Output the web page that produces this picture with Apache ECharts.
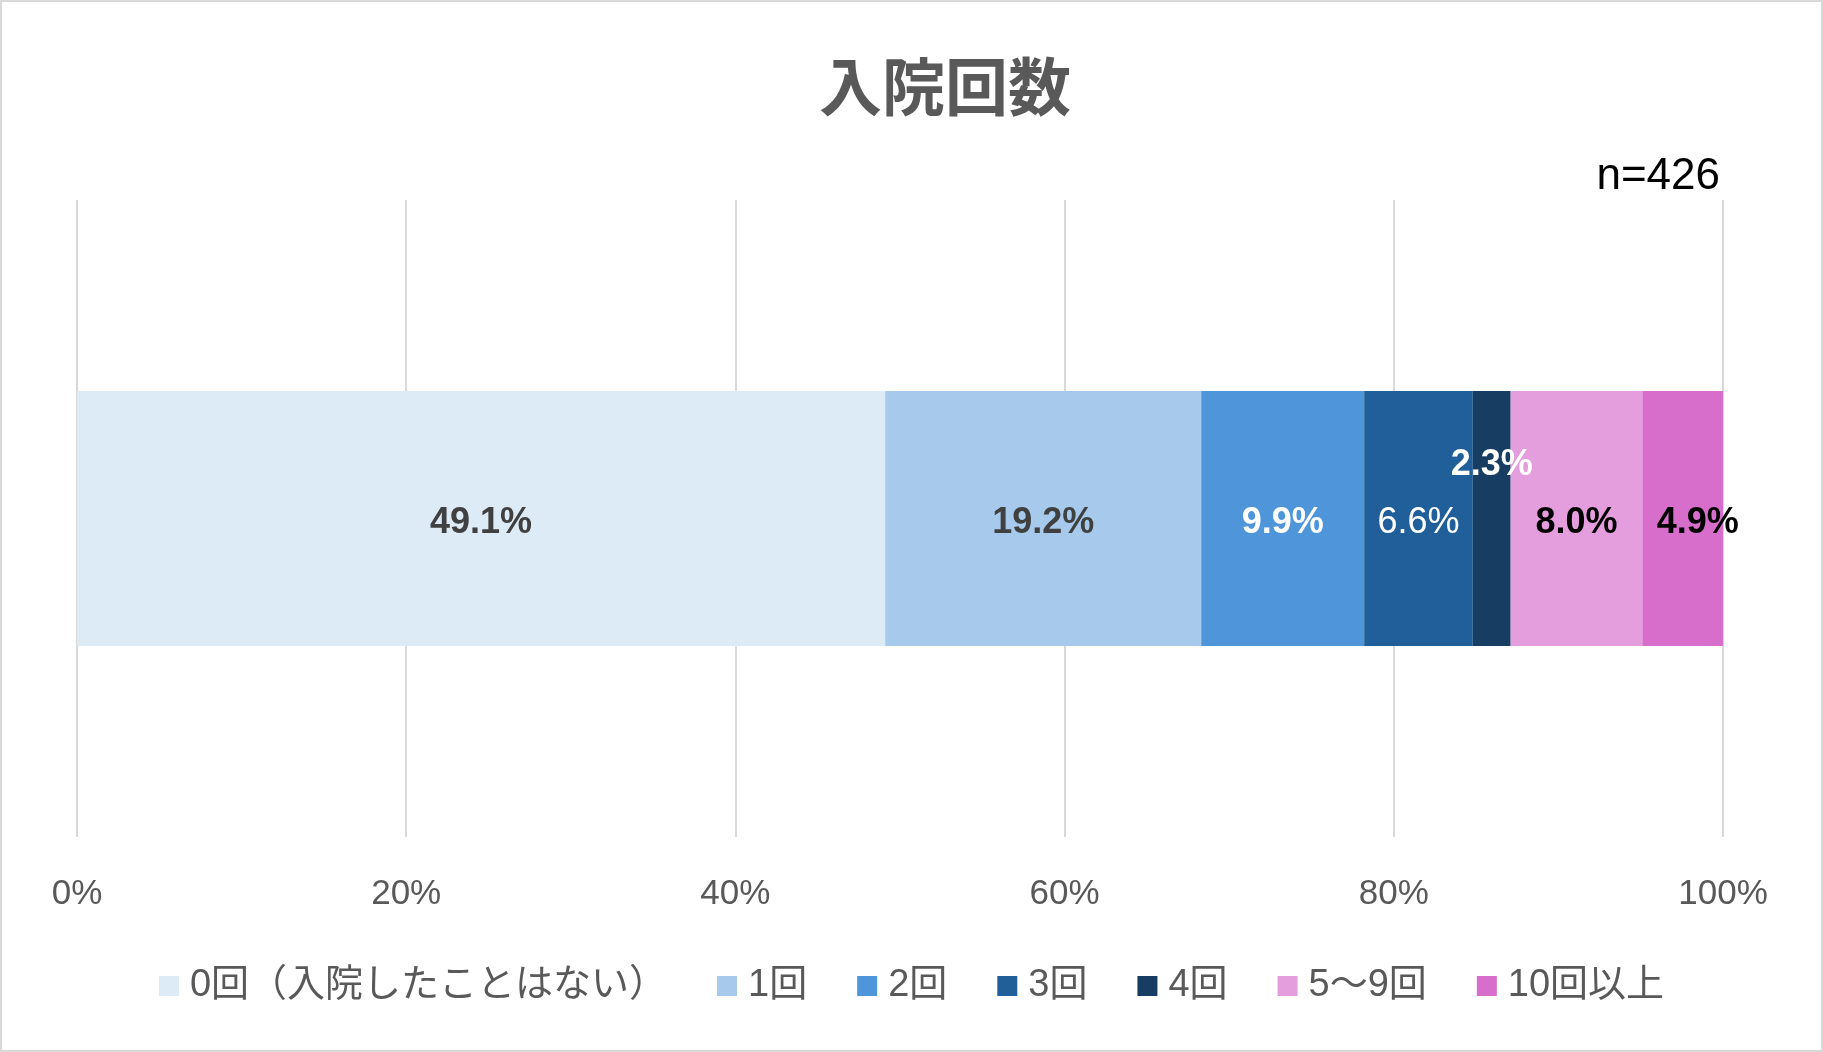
<!DOCTYPE html>
<html>
<head>
<meta charset="utf-8">
<script src="https://cdn.jsdelivr.net/npm/echarts@6/dist/echarts.min.js"></script>
<style>
  html, body { margin: 0; padding: 0; background: #fff; }
  #chart { width: 1823px; height: 1052px; }
</style>
</head>
<body>
<div id="chart"></div>
<script>
const titleText = '入院回数';
const sampleNote = 'n=426';
const category = ['入院回数'];
const seriesNames = ['0回（入院したことはない）', '1回', '2回', '3回', '4回', '5〜9回', '10回以上'];
const seriesValues = [49.1, 19.2, 9.9, 6.6, 2.3, 8.0, 4.9];
const seriesColors = ['#DDEBF7', '#A6C9EC', '#4E95D9', '#215F9A', '#183D63', '#E49EDD', '#D86ECC'];
const labelColors = ['#404040', '#404040', '#ffffff', '#ffffff', '#ffffff', '#000000', '#000000'];
const labelBold = [true, true, true, false, true, true, true];
const xTicks = [0, 20, 40, 60, 80, 100];

const latin = '"Liberation Sans", Arial, "Noto Sans CJK JP", sans-serif';
const cjk = '"Noto Sans CJK JP", "Liberation Sans", sans-serif';

// 2.3% sits above the others; 4.9% spills a bit past the bar end
const labelOffsets = [[0, 5], [0, 5], [0, 5], [0, 5], [0, -53], [0, 5], [15, 5]];

const chart = echarts.init(document.getElementById('chart'));

chart.setOption({
  backgroundColor: '#ffffff',
  animation: false,
  title: [
    {
      text: titleText,
      left: 814,
      top: 50,
      textStyle: { fontFamily: cjk, fontSize: 63, fontWeight: 'bold', color: '#595959' }
    },
    {
      text: sampleNote,
      right: 98,
      top: 150,
      textStyle: { fontFamily: latin, fontSize: 44, fontWeight: 'normal', color: '#000000' }
    }
  ],
  graphic: [{
    type: 'rect',
    silent: true,
    shape: { x: 1, y: 1, width: 1821, height: 1050 },
    style: { fill: 'none', stroke: '#d9d9d9', lineWidth: 2 }
  }],
  legend: {
    bottom: 42,
    left: 'center',
    itemWidth: 20,
    itemHeight: 20,
    itemGap: 50,
    icon: 'rect',
    textStyle: { fontFamily: latin, fontSize: 38, color: '#595959', padding: [0, 0, 0, 6] },
    data: seriesNames
  },
  grid: { left: 77, right: 100, top: 200, bottom: 215 },
  xAxis: {
    type: 'value',
    min: xTicks[0],
    max: xTicks[xTicks.length - 1],
    interval: 20,
    axisLine: { show: false },
    axisTick: { show: false },
    splitLine: { lineStyle: { color: '#d9d9d9', width: 2 } },
    axisLabel: {
      formatter: '{value}%',
      margin: 40,
      fontFamily: latin,
      fontSize: 35,
      color: '#595959'
    }
  },
  yAxis: {
    type: 'category',
    data: category,
    show: false
  },
  series: seriesNames.map((name, i) => ({
    name,
    type: 'bar',
    stack: 'total',
    barWidth: '40%',
    data: [seriesValues[i]],
    itemStyle: { color: seriesColors[i] },
    label: {
      show: true,
      position: 'inside',
      offset: labelOffsets[i],
      formatter: (p) => p.value.toFixed(1) + '%',
      fontFamily: latin,
      fontSize: 36,
      fontWeight: labelBold[i] ? 'bold' : 'normal',
      color: labelColors[i]
    }
  }))
});
</script>
</body>
</html>
